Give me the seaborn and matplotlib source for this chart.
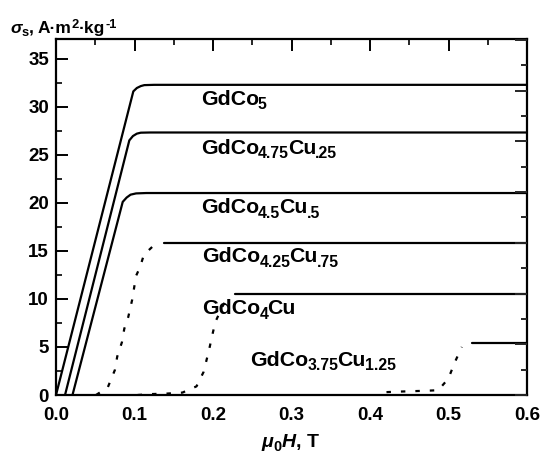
import matplotlib
matplotlib.use("Agg")
import matplotlib.pyplot as plt
import matplotlib.transforms as mtransforms
import seaborn as sns
import pandas as pd
from matplotlib.ticker import MultipleLocator, FormatStrFormatter

sns.set_theme(style="white")
plt.rcParams['font.family'] = ['Liberation Sans', 'DejaVu Sans']
plt.rcParams['font.weight'] = 'bold'

# ---- data ----
co5_x = [0.0, 0.0985, 0.103, 0.108, 0.1125, 0.125, 0.6]
co5_y = [0.0, 31.6, 31.95, 32.15, 32.25, 32.28, 32.28]

co475_x = [0.0115, 0.0934, 0.098, 0.103, 0.108, 0.12, 0.6]
co475_y = [0.0, 26.5, 26.95, 27.2, 27.3, 27.32, 27.32]

co45_x = [0.021, 0.085, 0.090, 0.095, 0.102, 0.115, 0.6]
co45_y = [0.0, 20.1, 20.55, 20.85, 20.98, 21.02, 21.02]

co425_dot_x = [0.051, 0.066, 0.075, 0.078, 0.084, 0.087, 0.092, 0.097, 0.102, 0.107, 0.112, 0.125]
co425_dot_y = [0.0, 0.8, 2.6, 4.0, 5.5, 6.9, 8.1, 9.9, 12.4, 13.3, 14.6, 15.6]
co425_pl_x = [0.137, 0.6]
co425_pl_y = [15.83, 15.83]

co4_dot_x = [0.104, 0.123, 0.142, 0.161, 0.179, 0.188, 0.195, 0.199, 0.203, 0.212, 0.22]
co4_dot_y = [0.0, 0.1, 0.15, 0.25, 0.9, 2.4, 4.7, 6.2, 7.6, 9.2, 10.4]
co4_pl_x = [0.228, 0.6]
co4_pl_y = [10.56, 10.56]

co375_dot_x = [0.421, 0.436, 0.455, 0.474, 0.487, 0.4998, 0.508, 0.517]
co375_dot_y = [0.3, 0.35, 0.4, 0.45, 0.5, 1.7, 3.4, 5.0]
co375_pl_x = [0.53, 0.6]
co375_pl_y = [5.42, 5.42]

# labels as (text, kind) pieces: kind n = normal, b = subscript
labels = [
    [("GdCo", "n"), ("5", "b")],
    [("GdCo", "n"), ("4.75", "b"), ("Cu", "n"), (".25", "b")],
    [("GdCo", "n"), ("4.5", "b"), ("Cu", "n"), (".5", "b")],
    [("GdCo", "n"), ("4.25", "b"), ("Cu", "n"), (".75", "b")],
    [("GdCo", "n"), ("4", "b"), ("Cu", "n")],
    [("GdCo", "n"), ("3.75", "b"), ("Cu", "n"), ("1.25", "b")],
]
label_x = [0.1845, 0.1845, 0.1845, 0.1865, 0.1865, 0.2475]
label_y = [30.2, 25.1, 18.9, 13.8, 8.4, 3.0]

W, H = 541, 455
fig = plt.figure(figsize=(W / 100, H / 100), dpi=100)
ax = fig.add_axes([56 / W, (H - 395) / H, (527 - 56) / W, (395 - 39) / H])

solid_kw = dict(color='black', linewidth=1.6, sort=False, estimator=None, ax=ax)
dot_kw = dict(color='black', linewidth=1.6, sort=False, estimator=None, ax=ax,
              linestyle=(0, (2, 4.5)))

for xs, ys in [(co5_x, co5_y), (co475_x, co475_y), (co45_x, co45_y),
               (co425_pl_x, co425_pl_y), (co4_pl_x, co4_pl_y), (co375_pl_x, co375_pl_y)]:
    sns.lineplot(data=pd.DataFrame({'x': xs, 'y': ys}), x='x', y='y', **solid_kw)
for xs, ys in [(co425_dot_x, co425_dot_y), (co4_dot_x, co4_dot_y), (co375_dot_x, co375_dot_y)]:
    sns.lineplot(data=pd.DataFrame({'x': xs, 'y': ys}), x='x', y='y', **dot_kw)

ax.set_xlim(0, 0.6)
ax.set_ylim(0, 37.05)
ax.set_xlabel('')
ax.set_ylabel('')
ax.xaxis.set_major_locator(MultipleLocator(0.1))
ax.xaxis.set_minor_locator(MultipleLocator(0.05))
ax.yaxis.set_major_locator(MultipleLocator(5))
ax.yaxis.set_minor_locator(MultipleLocator(2.5))
ax.xaxis.set_major_formatter(FormatStrFormatter('%.1f'))
ax.tick_params(which='major', direction='in', length=8.6, width=1.4,
               top=True, right=False, labelsize=13.5, colors='black')
ax.tick_params(which='minor', direction='in', length=4.3, width=1.4,
               top=True, right=False)
ax.tick_params(axis='x', which='major', pad=8.5)
ax.tick_params(axis='y', which='major', pad=5)
for lab in ax.get_xticklabels() + ax.get_yticklabels():
    lab.set_fontweight('bold')
for s in ax.spines.values():
    s.set_linewidth(1.6)
    s.set_color('black')
    s.set_visible(True)

ax2 = ax.twinx()
ax2.set_ylim(0, 37.05 / 5.28)
ax2.yaxis.set_major_locator(MultipleLocator(1))
ax2.yaxis.set_minor_locator(MultipleLocator(0.5))
ax2.tick_params(which='major', direction='in', length=8.6, width=1.4, labelright=False)
ax2.tick_params(which='minor', direction='in', length=4.3, width=1.4)
for s in ax2.spines.values():
    s.set_visible(False)

renderer = fig.canvas.get_renderer()


def rich(x, y, pieces, base, transform, ha='left', tighten=0.0):
    """pieces: (text, kind, style); kind n/b(sub)/p(sup)/s(space in em)."""
    objs = []
    cur = 0.0
    for txt, kind, style in pieces:
        if kind == 's':
            cur += float(txt) * base * 100 / 72
            continue
        size = base if kind == 'n' else base * 0.74
        dy = {'n': 0.0, 'b': -0.2 * base, 'p': 0.3 * base}[kind]
        t = fig.text(x, y, txt, fontsize=size, fontweight='bold', fontstyle=style,
                     ha='left', va='baseline', color='black')
        w = t.get_window_extent(renderer).width
        objs.append((t, cur, dy))
        cur += w - tighten
    shift = -cur / 2 if ha == 'center' else 0.0
    for t, dx, dy in objs:
        t.set_transform(mtransforms.offset_copy(transform, fig=fig, x=(dx + shift) * 72 / 100,
                                                y=dy, units='points'))
    return objs


for pcs, lx, ly in zip(labels, label_x, label_y):
    rich(lx, ly, [(p, k, 'normal') for p, k in pcs], 15.3, ax.transData, tighten=1.0)

rich(10 / W, (H - 33) / H,
     [("σ", "n", "italic"), ("s", "b", "normal"), (",", "n", "normal"), ("0.25", "s", None),
      ("A·m", "n", "normal"), ("2", "p", "normal"), ("·kg", "n", "normal"),
      ("-1", "p", "normal")], 12.5, fig.transFigure, tighten=0.0)

rich(290 / W, (H - 447) / H,
     [("μ", "n", "italic"), ("0", "b", "normal"), ("H", "n", "italic"), (",", "n", "normal"),
      ("0.28", "s", None), ("T", "n", "normal")], 14, fig.transFigure, ha='center', tighten=0.0)

fig.savefig('out.png', dpi=100)
